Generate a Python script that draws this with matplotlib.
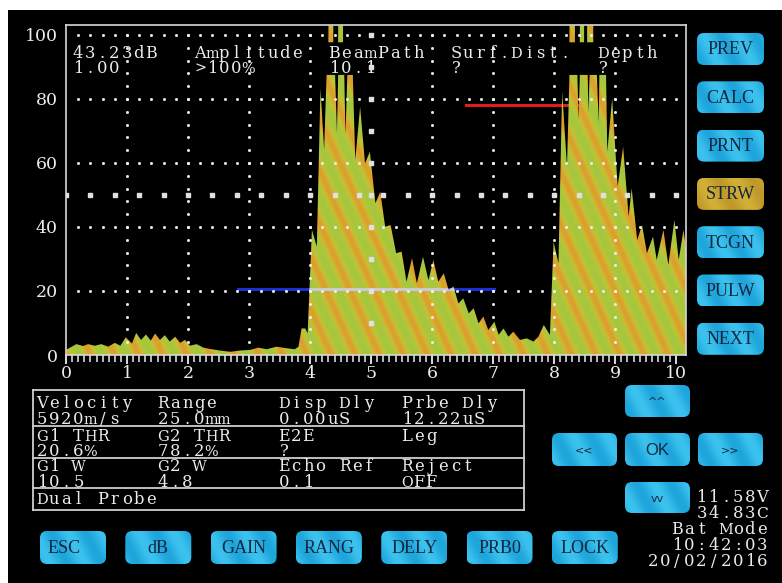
import numpy as np
import matplotlib
matplotlib.use("Agg")
import matplotlib.pyplot as plt
from matplotlib.colors import LinearSegmentedColormap
from matplotlib.patches import FancyBboxPatch, Rectangle, PathPatch
from matplotlib.path import Path
from matplotlib.textpath import TextToPath
from matplotlib.font_manager import FontProperties

# A-scan trace: screen division (x) vs % full screen height (y)
noise_x = [0.0, 0.17, 0.28, 0.36, 0.47, 0.58, 0.69, 0.80, 0.89, 0.98, 1.08, 1.15, 1.23, 1.31,
           1.39, 1.46, 1.54, 1.62, 1.70, 1.79, 1.87, 1.95, 2.03, 2.14, 2.25, 2.36, 2.52, 2.69,
           2.85, 3.02, 3.15, 3.29, 3.45, 3.62, 3.75, 3.81, 3.86, 3.92, 3.96]
noise_y = [1.6, 3.4, 2.8, 3.4, 2.9, 3.4, 2.6, 3.8, 2.9, 5.5, 3.6, 6.9, 4.7, 6.4,
           4.5, 6.7, 4.7, 6.2, 4.2, 5.7, 3.8, 4.7, 2.9, 3.4, 2.3, 1.9, 1.4, 1.0,
           1.4, 1.6, 2.3, 1.8, 2.6, 2.1, 1.8, 2.6, 8.3, 8.3, 6.8]
echo1_x = [4.03, 4.11, 4.17, 4.23, 4.27, 4.41, 4.44, 4.46, 4.56, 4.58, 4.61, 4.70, 4.74, 4.82,
           4.90, 4.98, 5.07, 5.15, 5.23, 5.32, 5.41, 5.50, 5.58, 5.67, 5.75, 5.85, 5.94, 6.02,
           6.10, 6.19, 6.27, 6.35, 6.43, 6.51, 6.60, 6.68, 6.76, 6.84, 6.92, 7.02, 7.09, 7.17,
           7.25, 7.33, 7.44, 7.55, 7.66, 7.74, 7.83, 7.93]
echo1_y = [39.1, 33.9, 83.3, 64.1, 87.5, 87.5, 69.3, 87.5, 87.5, 68.8, 87.5, 87.5, 60.9, 77.6,
           59.9, 63.5, 47.4, 51.0, 40.1, 40.6, 31.8, 32.3, 22.9, 30.2, 22.4, 30.7, 23.4, 29.7,
           22.9, 25.5, 20.3, 21.4, 16.1, 17.7, 13.0, 14.6, 9.9, 12.0, 7.8, 10.4, 6.3, 8.3,
           5.7, 7.3, 4.7, 5.2, 4.2, 5.7, 9.4, 6.3]
echo2_x = [7.99, 8.07, 8.13, 8.21, 8.25, 8.38, 8.40, 8.42, 8.55, 8.56, 8.58, 8.70, 8.73, 8.74,
           8.85, 8.87, 8.95, 9.04, 9.13, 9.22, 9.27, 9.36, 9.44, 9.52, 9.62, 9.68, 9.79, 9.87,
           9.97, 10.04, 10.12, 10.16]
echo2_y = [35.4, 28.6, 82.3, 58.9, 87.5, 87.5, 73.4, 87.5, 87.5, 75.6, 87.5, 87.5, 72.4, 87.5,
           87.5, 63.5, 80.2, 52.6, 65.1, 43.2, 52.1, 35.9, 40.6, 31.8, 37.0, 29.7, 39.1, 28.1,
           42.2, 29.7, 39.1, 33.0]

# overflow slivers shown above the header text
over_x0 = [4.30, 4.46, 8.25, 8.42, 8.54]
over_x1 = [4.38, 4.54, 8.34, 8.49, 8.64]
over_lo, over_hi = 97.7, 103.0

# gates (start in divisions, width in mm, level in %)
mm_per_div = 2.5
g1_start, g1_width, g1_level = 2.82, 10.5, 20.6
g2_start, g2_width, g2_level = 6.56, 4.8, 78.2

header = [("43.23dB", "1.00"), ("Amplitude", ">100%"), ("BeamPath", "10.1"),
          ("Surf.Dist.", "?"), ("Depth", "?")]
header_px = [72, 194, 328, 450, 597]

table_rows = [[("Velocity", "5920m/s"), ("Range", "25.0mm"), ("Disp Dly", "0.00uS"), ("Prbe Dly", "12.22uS")],
              [("G1 THR", "20.6%"), ("G2 THR", "78.2%"), ("E2E", "?"), ("Leg", "")],
              [("G1 W", "10.5"), ("G2 W", "4.8"), ("Echo Ref", "0.1"), ("Reject", "OFF")]]
table_footer = "Dual Probe"

side_buttons = ["PREV", "CALC", "PRNT", "STRW", "TCGN", "PULW", "NEXT"]
bottom_buttons = ["ESC", "dB", "GAIN", "RANG", "DELY", "PRB0", "LOCK"]
status = ["11.58V", "34.83C", "Bat Mode", "10:42:03", "20/02/2016"]

W, H = 782, 583
XMAX, YMAX = 10.16, 103.1
SERIF = "DejaVu Serif"
FG = "#ececec"
INK = "#16263f"
PITCH = 12.1

fig = plt.figure(figsize=(W / 100, H / 100), dpi=100, facecolor="white")
bg = fig.add_axes([0, 0, 1, 1])
bg.set_xlim(0, W)
bg.set_ylim(H, 0)
bg.axis("off")
bg.add_patch(Rectangle((8, 10), W - 8, H - 10, fc="black", ec="none", zorder=0.5))

t2p = TextToPath()
prop = FontProperties(family=SERIF, size=12)
def mono_text(x, y, s, ha="left", fs=11.8):
    # fixed-pitch serif text like the instrument font; wide glyphs are narrowed a little
    x0 = x - len(s) * PITCH if ha == "right" else x
    for i, ch in enumerate(s):
        if ch == " ":
            continue
        w = t2p.get_text_width_height_descent(ch, prop, ismath=False)[0] * 100 / 72 * fs / 12
        size = fs * max(0.88, min(1.0, 0.97 * PITCH / w)) if w > 0 else fs
        bg.text(x0 + (i + 0.5) * PITCH, y, ch, family=SERIF, fontsize=size, color=FG,
                ha="center", va="baseline", zorder=5)

ax = fig.add_axes([66 / W, 1 - 355 / H, 620 / W, 330 / H])
ax.set_facecolor("none")

trace_x = noise_x + echo1_x + echo2_x
trace_y = noise_y + echo1_y + echo2_y

# striped fill, clipped to the trace outline
verts = list(zip(trace_x, trace_y)) + [(trace_x[-1], 0), (trace_x[0], 0)]
paths = [Path(np.array(verts + [verts[0]]), closed=True)]
for a, b in zip(over_x0, over_x1):
    paths.append(Path(np.array([(a, over_lo), (b, over_lo), (b, over_hi), (a, over_hi), (a, over_lo)]), closed=True))
clip = PathPatch(Path.make_compound_path(*paths), transform=ax.transData, fc="none", ec="none")
ax.add_patch(clip)

gx, gy = np.meshgrid(np.linspace(0, XMAX, 900), np.linspace(0, YMAX, 400))
phase = 2.2 * gx * 61 + gy * 3.2
stripes = 0.5 + 0.5 * np.cos(2 * np.pi * phase / 53.0)
cmap = LinearSegmentedColormap.from_list("scope", [(0, "#a6c63e"), (0.4, "#b4c63a"),
                                                    (0.7, "#cdbb30"), (1, "#dc9f2e")])
im = ax.imshow(stripes, extent=(0, XMAX, 0, YMAX), origin="lower", aspect="auto",
               cmap=cmap, interpolation="bilinear", zorder=2)
im.set_clip_path(clip)

# gates
g1_end = g1_start + g1_width / mm_per_div
g2_end = g2_start + g2_width / mm_per_div
ax.plot([g1_start, g1_end], [g1_level, g1_level], color="#1c2fd0", lw=2.2, zorder=1.5)
over, = ax.plot([g1_start, g1_end], [g1_level, g1_level], color="#c9cbd2", lw=2.2, zorder=3)
over.set_clip_path(clip)
ax.plot([g2_start, g2_end], [g2_level, g2_level], color="#e01c1c", lw=2.2, zorder=1.5)

# dotted graticule
for yv in [20, 40, 60, 80, 100]:
    xs = np.arange(0.2, 10.01, 0.2)
    ax.plot(xs, np.full(len(xs), yv), ls="none", marker="s", ms=1.0, color="#f0f0f0", zorder=4)
for xv in [1, 2, 3, 4, 6, 7, 8, 9]:
    ys = np.arange(4, 101, 4)
    ax.plot(np.full(len(ys), xv), ys, ls="none", marker="s", ms=1.0, color="#f0f0f0", zorder=4)
xs = np.arange(0, 10.01, 0.4)
ax.plot(xs, np.full(len(xs), 50), ls="none", marker="s", ms=2.3, color="#e0e0e0", zorder=4)
ys = np.arange(10, 101, 10)
ax.plot(np.full(len(ys), 5), ys, ls="none", marker="s", ms=2.3, color="#e0e0e0", zorder=4)

ax.set_xlim(0, XMAX)
ax.set_ylim(0, YMAX)
ax.set_xticks(range(11))
ax.set_xticks(np.arange(0, 10.01, 0.1), minor=True)
ax.set_yticks(range(0, 101, 20))
ax.tick_params(axis="x", which="major", direction="out", length=6.5, width=1.3, color=FG,
               labelcolor=FG, labelsize=12.5, pad=1)
ax.tick_params(axis="x", which="minor", direction="out", length=5, width=1.1, color=FG)
ax.tick_params(axis="y", length=0, labelcolor=FG, labelsize=12.5, pad=6)
for lab in ax.get_xticklabels() + ax.get_yticklabels():
    lab.set_family(SERIF)
for side in ["left", "top", "right", "bottom"]:
    ax.spines[side].set_color("#d8d8d8")
    ax.spines[side].set_linewidth(1.2)

# header readouts over the trace
for (top, val), px in zip(header, header_px):
    mono_text(px, 58, top)
    mono_text(px, 73, val)

# parameter table
tl, tr = 33, 524
row_lines = [390, 426, 458, 488, 510]
for yl in row_lines:
    bg.plot([tl, tr], [yl, yl], color="#cfcfcf", lw=1.3, zorder=2)
bg.plot([tl, tl], [row_lines[0], row_lines[-1]], color="#cfcfcf", lw=1.3, zorder=2)
bg.plot([tr, tr], [row_lines[0], row_lines[-1]], color="#cfcfcf", lw=1.3, zorder=2)
col_px = [36, 157, 278, 401]
base_top = [408, 441, 471]
base_val = [424, 456, 487]
for row, bt, bv in zip(table_rows, base_top, base_val):
    for (name, val), cx in zip(row, col_px):
        mono_text(cx, bt, name)
        mono_text(cx, bv, val)
mono_text(36, 504, table_footer)

# buttons
cyan_map = LinearSegmentedColormap.from_list("btn", ["#1ea6dc", "#3cc2ee"])
gold_map = LinearSegmentedColormap.from_list("btn2", ["#bf9a2a", "#d2b036"])
def button(x0, y0, w, h, label, cm, fs=13, family="Liberation Serif", tx=None):
    patch = FancyBboxPatch((x0, y0), w, h, boxstyle="round,pad=0,rounding_size=7",
                           fc="none", ec="none", zorder=2)
    bg.add_patch(patch)
    bx, by = np.meshgrid(np.linspace(x0, x0 + w, 60), np.linspace(y0, y0 + h, 30))
    img = bg.imshow(0.5 + 0.5 * np.cos(2 * np.pi * (2.0 * bx + by) / 70.0),
                    extent=(x0, x0 + w, y0 + h, y0), origin="lower", aspect="auto",
                    cmap=cm, interpolation="bilinear", zorder=2)
    img.set_clip_path(patch)
    bg.text(tx if tx is not None else x0 + w / 2, y0 + h / 2 + 1, label, ha="center",
            va="center", family=family, fontsize=fs, color=INK, zorder=5)

for i, lab in enumerate(side_buttons):
    button(697, 33 + i * 48.3, 67, 32, lab, gold_map if lab == "STRW" else cyan_map)
for i, lab in enumerate(bottom_buttons):
    button(40 + i * 85.3, 531, 66, 33, lab, cyan_map, tx=64 if lab == "ESC" else None)

button(625, 385, 65, 32, "^^", cyan_map, fs=8, family="DejaVu Sans")
button(552, 433, 65, 33, "<<", cyan_map, fs=8, family="DejaVu Sans")
button(625, 433, 65, 33, "OK", cyan_map, fs=12, family="Liberation Sans")
button(698, 433, 65, 33, ">>", cyan_map, fs=8, family="DejaVu Sans")
button(625, 482, 65, 31, "vv", cyan_map, fs=8, family="DejaVu Sans")

bg.set_xlim(0, W)
bg.set_ylim(H, 0)

for s, yb in zip(status, [502, 518, 534, 550, 566]):
    mono_text(768, yb, s, ha="right")

fig.savefig("out.png", dpi=100, facecolor="white")
